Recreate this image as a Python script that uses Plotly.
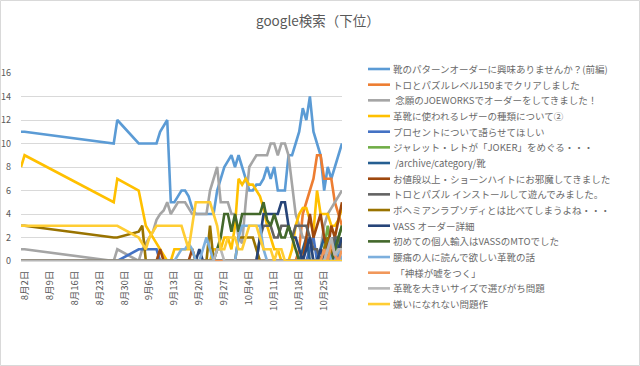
import plotly.graph_objects as go
import pandas as pd

# ---- categories (dates) ----
early_dates = ["2019-08-01", "2019-08-02", "2019-08-27", "2019-08-28"]
daily_dates = [d.strftime("%Y-%m-%d") for d in pd.date_range("2019-09-03", "2019-10-30")]
dates = early_dates + daily_dates

tick_dates = ["2019-08-02", "2019-08-09", "2019-08-16", "2019-08-23", "2019-08-30",
              "2019-09-06", "2019-09-13", "2019-09-20", "2019-09-27", "2019-10-04",
              "2019-10-11", "2019-10-18", "2019-10-25"]
tick_labels = ["8月2日", "8月9日", "8月16日", "8月23日", "8月30日", "9月6日", "9月13日",
               "9月20日", "9月27日", "10月4日", "10月11日", "10月18日", "10月25日"]

names = [
    "靴のパターンオーダーに興味ありませんか？(前編)",
    "トロとパズルレベル150までクリアしました",
    " 念願のJOEWORKSでオーダーをしてきました！",
    "革靴に使われるレザーの種類について②",
    "プロセントについて語らせてほしい",
    "ジャレット・レトが「JOKER」をめぐる・・・",
    " /archive/category/靴",
    "お値段以上・ショーンハイトにお邪魔してきました",
    "トロとパズル インストールして遊んでみました。",
    "ボヘミアンラプソディとは比べてしまうよね・・・",
    "VASS オーダー詳細",
    "初めての個人輸入はVASSのMTOでした",
    "腰痛の人に読んで欲しい革靴の話",
    " 「神様が嘘をつく」",
    "革靴を大きいサイズで選びがち問題",
    "嫌いになれない問題作",
]
colors = ["#5B9BD5", "#ED7D31", "#A5A5A5", "#FFC000", "#4472C4", "#70AD47",
          "#255E91", "#9E480E", "#636363", "#997300", "#264478", "#43682B",
          "#7CAFDD", "#F1975A", "#B7B7B7", "#FFCD33"]

# ---- series values ----
s01 = [11, 11, 10, 12, 10, 10, 10, 10, 10, 10, 11, 11.5, 12, 5, 5, 5.5, 6, 6, 5.5, 4.5,
       4, 4, 4, 4, 4, 4, 6, 7, 8, 8.5, 9, 8, 9, 8, 7, 6, 6, 6.5, 6.5, 7, 8, 7,
       8, 6, 6, 6, 9, 9, 10, 11, 13, 12, 14, 11, 10, 9, 6, 8, 7, 8, 9, 10]
s02 = [0] * 49 + [1, 4, 5, 6, 7, 9, 9, 7, 7, 7, 5, 4, 3]
s03 = [1, 1, 0, 1, 0, 1, 1.5, 2, 2.5, 3.5, 4, 4.3, 5, 4, 4.5, 5, 5, 5, 4.5, 4,
       4, 4, 4, 4, 6, 7, 8, 5, 5, 5, 4, 4, 2, 1.5, 5, 8, 8.5, 9, 9, 9, 9, 10,
       10, 9, 10, 10, 9, 6.5, 4, 3, 2, 2, 1, 0, 0, 1, 3, 4, 4.5, 5, 5.5, 6]
s04 = [8, 9, 5, 7, 6, 4.6, 3, 2.5, 2, 1.5, 1, 0.5, 0, 0, 1, 1, 1, 1, 1, 1,
       0, 0, 0, 0, 0, 1, 1, 1, 2, 2, 1, 3, 7, 6.5, 7, 6.5, 6.5, 6, 5.5, 4.5, 3, 2,
       1, 1, 0, 0, 0, 1, 3, 4, 4.5, 4.5, 3.5, 2.5, 6, 4, 4, 4, 3, 3, 3.5, 4.5]
s05 = [0, 0, 0, 0, 1, 1, 1, 1, 1, 1] + [0] * 42 + [1, 2, 0, 0, 1, 0, 2, 1, 0, 2]
s06 = [0] * 56 + [1, 3, 1, 0, 2, 3]
s07 = [0] * 50 + [1, 2, 0, 0, 0, 1, 2, 1, 0, 2, 1, 2]
s08 = [0] * 10 + [1] + [0] * 8 + [1] + [0] * 31 + [2, 4, 2, 3, 4, 2, 1, 3, 2, 3.5, 5]
s09 = [0] * 38 + [2, 3, 3, 3, 2, 2, 3, 3, 3, 2, 3, 3, 3, 3, 2, 1, 1, 0, 1, 0, 1, 2, 2, 1]
s10 = [3, 3, 2, 2, 2.5, 3] + [0] * 18 + [3, 0] + [0] * 6 + [2, 2, 2, 2, 2, 1] + [0] * 18 + [1, 2, 1, 0, 1, 2]
s11 = [0] * 21 + [1] + [0] * 16 + [2, 4, 4, 4, 4, 4, 5, 5, 3, 2, 2, 1, 0, 1, 2, 0, 0, 1, 0, 1, 2, 0, 1, 2]
s12 = [0] * 26 + [1, 2, 4, 4, 2.5, 4, 2.5, 4, 4, 4, 4, 4, 4, 5, 3.5, 3, 4, 3, 2, 2, 3, 2, 1, 0] + [0] * 6 + [0, 1, 0, 1, 2, 3]
s13 = [0] * 15 + [0.5, 1, 1, 1.5, 1, 0, 0, 1, 2, 1, 0] + [0] * 6 + [2, 3, 3, 3, 3, 3, 3, 1] + [0] * 17 + [1, 0, 0, 1, 0]
s14 = [0] * 55 + [0, 1, 0, 1.5, 0.5, 0, 1]
s15 = [0] * 26 + [1, 1] + [0] * 28 + [0, 1, 2, 0.5, 1, 1]
s16 = [3, 3, 3, 3, 2, 1.5, 1, 2, 2.5, 3, 3, 3, 3, 3, 3, 3, 3, 2, 1, 3,
       5, 5, 5, 5, 5, 4, 3, 1, 1, 2, 2, 2, 1, 1, 2, 3, 3, 3, 2, 1, 1, 1,
       0, 1, 1, 0, 0, 0] + [0] * 14

series = [s01, s02, s03, s04, s05, s06, s07, s08, s09, s10, s11, s12, s13, s14, s15, s16]

# ---- geometry (pixels) ----
W, H = 640, 366
L, R, T, B = 21, 298, 73, 105
pw, ph = W - L - R, H - T - B


def px_x(x):
    return (x - L) / pw


def px_y(y):
    return (H - B - y) / ph


fig = go.Figure()
for name, col, vals in zip(names, colors, series):
    fig.add_trace(go.Scatter(x=dates, y=vals, name=name, mode="lines",
                             line=dict(color=col, width=2.6), showlegend=False))

# legend drawn manually (compact Excel-like spacing)
shapes = []
annotations = []
for i, (name, col) in enumerate(zip(names, colors)):
    yy = 69 + i * 15.67
    shapes.append(dict(type="line", xref="paper", yref="paper",
                       x0=px_x(368), x1=px_x(390), y0=px_y(yy), y1=px_y(yy),
                       line=dict(color=col, width=2.6)))
    annotations.append(dict(text=name, xref="paper", yref="paper", x=px_x(391), y=px_y(yy),
                            xanchor="left", yanchor="middle", showarrow=False,
                            font=dict(size=9.5, color="#6a6a6a")))

# chart border
shapes.append(dict(type="rect", xref="paper", yref="paper",
                   x0=px_x(0.5), x1=px_x(639.5), y0=px_y(365.5), y1=px_y(0.5),
                   line=dict(color="#D9D9D9", width=1), layer="below"))

annotations.append(dict(text="google検索（下位）", xref="paper", yref="paper",
                        x=px_x(318), y=px_y(20), xanchor="center", yanchor="middle",
                        showarrow=False, font=dict(size=13.5, color="#595959")))

fig.update_layout(
    width=W, height=H,
    margin=dict(l=L, r=R, t=T, b=B),
    paper_bgcolor="white", plot_bgcolor="white",
    font=dict(family="Noto Sans CJK JP, Noto Sans, sans-serif", color="#595959"),
    shapes=shapes, annotations=annotations,
    xaxis=dict(type="date", range=["2019-08-01", "2019-10-30"], automargin=False,
               tickvals=tick_dates, ticktext=tick_labels, tickangle=-90,
               showgrid=False, zeroline=False, showline=True, linecolor="#D9D9D9",
               ticks="", tickfont=dict(size=9.5, color="#595959"), ticklabelstandoff=5),
    yaxis=dict(range=[0, 16], dtick=2, showgrid=True, gridcolor="#D9D9D9", gridwidth=1,
               automargin=False,
               zeroline=False, showline=False, ticks="",
               tickfont=dict(size=9, color="#595959"), ticklabelstandoff=9),
)

fig.write_html("out.html", config={"displayModeBar": False},
               post_script="document.body.style.margin='0';document.body.style.overflow='hidden';")
